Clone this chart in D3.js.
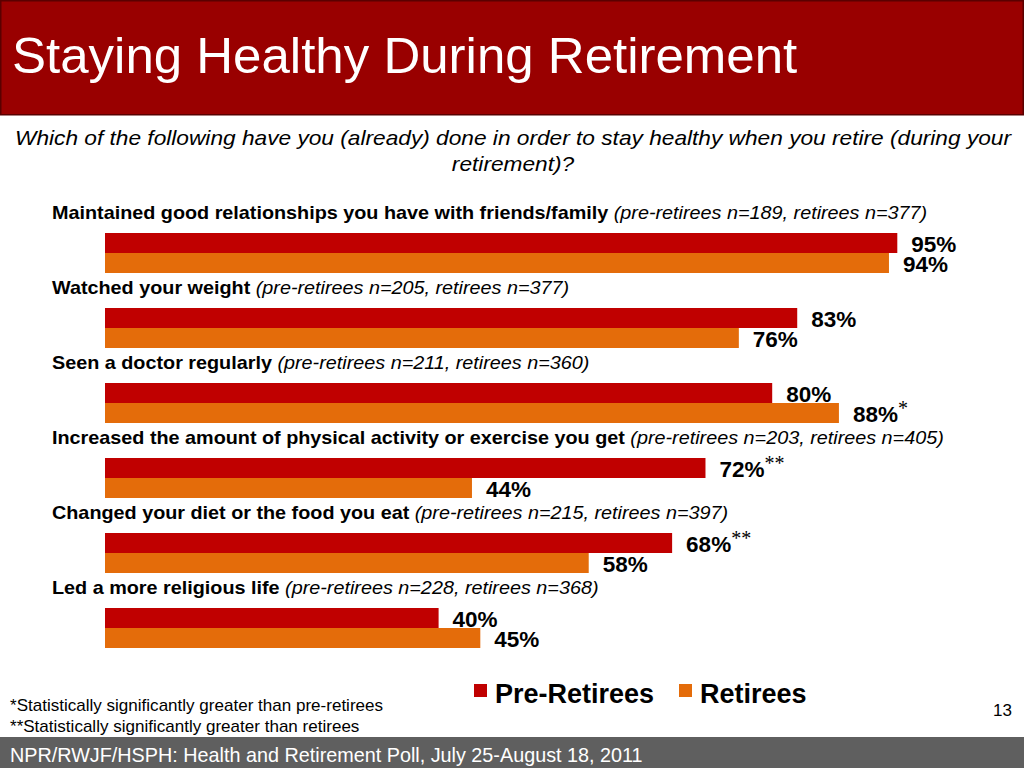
<!DOCTYPE html>
<html>
<head>
<meta charset="utf-8">
<script src="https://cdn.jsdelivr.net/npm/d3@7/dist/d3.min.js"></script>
<style>
  html, body { margin: 0; padding: 0; background: #fff; }
  svg { display: block; font-family: "Liberation Sans", Arial, sans-serif; }
  text { white-space: pre; }
</style>
</head>
<body>
<svg id="chart" width="1024" height="768"></svg>
<script>
const categories = [
  "Maintained good relationships you have with friends/family",
  "Watched your weight",
  "Seen a doctor regularly",
  "Increased the amount of physical activity or exercise you get",
  "Changed your diet or the food you eat",
  "Led a more religious life"
];
const sampleNotes = [
  "(pre-retirees n=189, retirees n=377)",
  "(pre-retirees n=205, retirees n=377)",
  "(pre-retirees n=211, retirees n=360)",
  "(pre-retirees n=203, retirees n=405)",
  "(pre-retirees n=215, retirees n=397)",
  "(pre-retirees n=228, retirees n=368)"
];
const seriesNames = ["Pre-Retirees", "Retirees"];
const preRetirees = [95, 83, 80, 72, 68, 40];
const retirees = [94, 76, 88, 44, 58, 45];
const preSig = ["", "", "", "**", "**", ""];
const retSig = ["", "", "*", "", "", ""];
const colors = ["#C00000", "#E46C0A"];

const svg = d3.select("#chart");

// Title bar
svg.append("rect").attr("x", 0.75).attr("y", 0.75).attr("width", 1022.5).attr("height", 114)
  .attr("fill", "#990000").attr("stroke", "#5a0000").attr("stroke-width", 1.5);
svg.append("text").attr("transform", "translate(12,73) scale(1.01,1)").attr("fill", "#fff")
  .attr("font-size", 50.5).text("Staying Healthy During Retirement");

// Subtitle
[["Which of the following have you (already) done in order to stay healthy when you retire (during your", 145],
 ["retirement)?", 171]].forEach(([t, yy]) => {
  svg.append("text").attr("transform", `translate(513,${yy}) scale(1.135,1)`).attr("text-anchor", "middle")
    .attr("font-size", 20).attr("font-style", "italic").attr("fill", "#000").text(t);
});

// Scales
const x = d3.scaleLinear().domain([0, 100]).range([105, 939]);
const y = d3.scaleBand().domain(categories).range([233, 233 + 75 * categories.length]).paddingInner(0).paddingOuter(0);
const sub = d3.scaleBand().domain(seriesNames).range([0, 40]);

const rows = categories.map((c, i) => ({
  cat: c, note: sampleNotes[i],
  vals: [
    { s: seriesNames[0], v: preRetirees[i], sig: preSig[i], color: colors[0] },
    { s: seriesNames[1], v: retirees[i], sig: retSig[i], color: colors[1] }
  ]
}));

const g = svg.append("g");
const grp = g.selectAll("g.grp").data(rows).join("g").attr("class", "grp")
  .attr("transform", d => `translate(0,${y(d.cat)})`);

// Category labels
const lab = grp.append("text").attr("transform", "translate(52,-14) scale(1.1,1)")
  .attr("font-size", 18).attr("fill", "#000");
lab.append("tspan").attr("font-weight", "bold").text(d => d.cat);
lab.append("tspan").attr("font-style", "italic").text(d => " " + d.note);

// Bars
grp.selectAll("rect.bar").data(d => d.vals).join("rect").attr("class", "bar")
  .attr("x", x(0)).attr("y", d => sub(d.s))
  .attr("width", d => x(d.v) - x(0)).attr("height", sub.bandwidth())
  .attr("fill", d => d.color);

// Value labels
const vl = grp.selectAll("text.val").data(d => d.vals).join("text").attr("class", "val")
  .attr("x", d => x(d.v) + 14).attr("y", d => sub(d.s) + sub.bandwidth() - 1.5)
  .attr("font-size", 22.5).attr("font-weight", "bold").attr("fill", "#000");
vl.append("tspan").text(d => d.v + "%");
vl.filter(d => d.sig).append("tspan")
  .attr("font-family", "'Liberation Serif', 'Times New Roman', serif")
  .attr("font-weight", "normal").attr("font-size", 20).attr("dy", -7)
  .text(d => d.sig);

// Legend
const leg = svg.append("g");
const legX = [474, 679];
seriesNames.forEach((s, i) => {
  leg.append("rect").attr("x", legX[i]).attr("y", 684).attr("width", 13).attr("height", 13).attr("fill", colors[i]);
  leg.append("text").attr("x", legX[i] + 21).attr("y", 703).attr("font-size", 27).attr("font-weight", "bold")
    .attr("fill", "#000").text(s);
});

// Footnotes
svg.append("text").attr("transform", "translate(10,711) scale(1.066,1)").attr("font-size", 16).attr("fill", "#000")
  .text("*Statistically significantly greater than pre-retirees");
svg.append("text").attr("transform", "translate(10,732) scale(1.066,1)").attr("font-size", 16).attr("fill", "#000")
  .text("**Statistically significantly greater than retirees");
svg.append("text").attr("x", 1012).attr("y", 716).attr("text-anchor", "end").attr("font-size", 17).attr("fill", "#000")
  .text("13");

// Footer bar
svg.append("rect").attr("x", 0).attr("y", 737).attr("width", 1024).attr("height", 31).attr("fill", "#5f5f5f");
svg.append("text").attr("x", 10).attr("y", 762).attr("font-size", 19.8).attr("fill", "#fff")
  .text("NPR/RWJF/HSPH: Health and Retirement Poll, July 25-August 18, 2011");
</script>
</body>
</html>
